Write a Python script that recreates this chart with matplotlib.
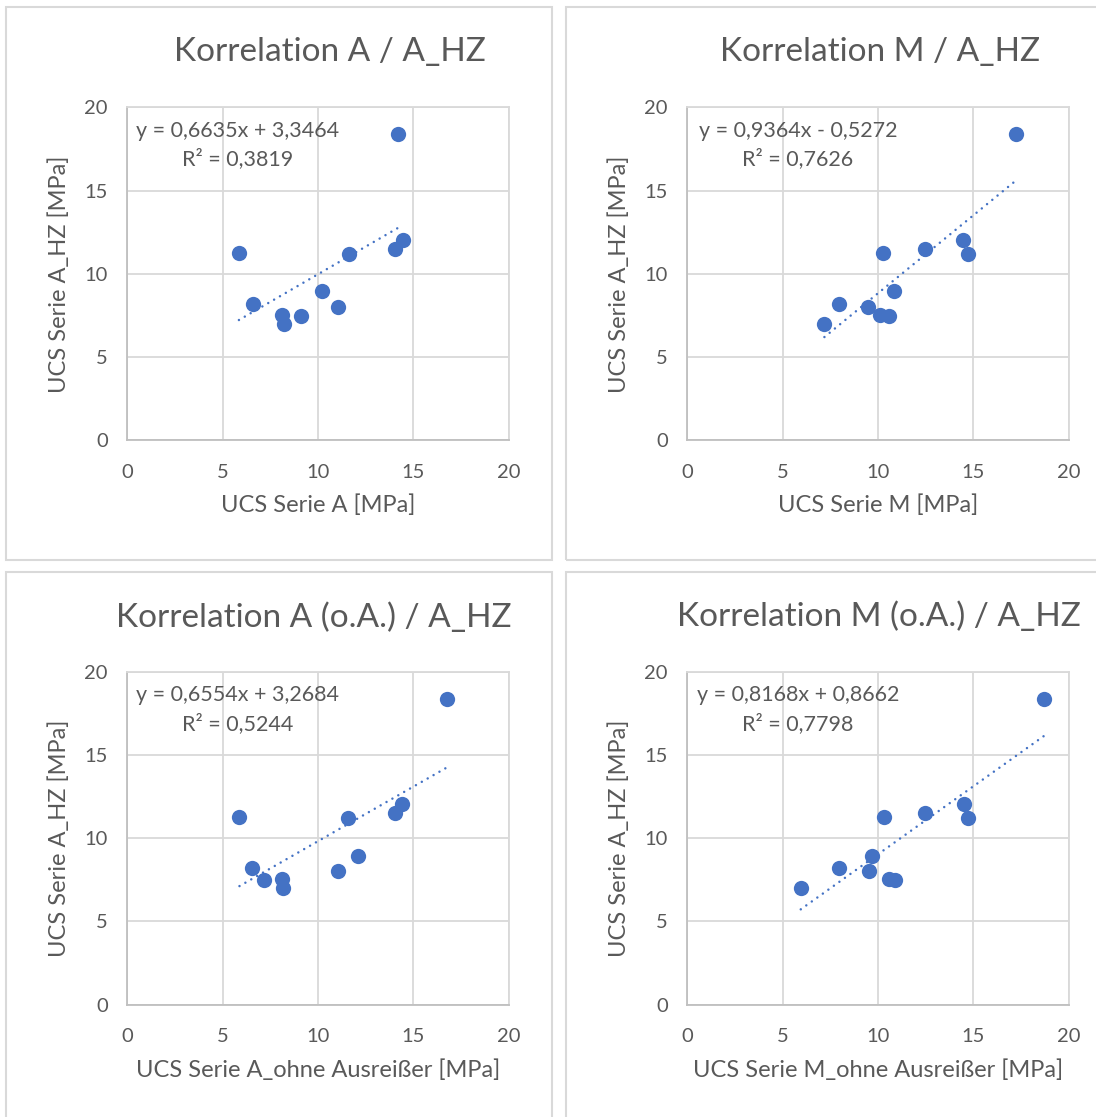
import numpy as np
import matplotlib
matplotlib.use("Agg")
import matplotlib.pyplot as plt
from matplotlib.patches import Rectangle

# UCS values (same 11 samples)
y_a_hz = [18.38, 11.26, 11.22, 12.06, 11.5, 8.96, 8.2, 8.02, 7.52, 7.01, 7.47]

x_serie_a = [14.18, 5.85, 11.6, 14.44, 14.02, 10.21, 6.59, 11.06, 8.12, 8.19, 9.08]
x_serie_m = [17.23, 10.27, 14.72, 14.48, 12.45, 10.83, 7.94, 9.48, 10.08, 7.19, 10.57]
x_serie_a_oa = [16.78, 5.88, 11.55, 14.42, 14.02, 12.07, 6.54, 11.06, 8.10, 8.17, 7.18]
x_serie_m_oa = [18.71, 10.34, 14.72, 14.51, 12.48, 9.71, 7.98, 9.52, 10.59, 5.95, 10.87]

titles = ["Korrelation A / A_HZ", "Korrelation M / A_HZ",
          "Korrelation A (o.A.) / A_HZ", "Korrelation M (o.A.) / A_HZ"]
xlabels = ["UCS Serie A [MPa]", "UCS Serie M [MPa]",
           "UCS Serie A_ohne Ausreißer [MPa]", "UCS Serie M_ohne Ausreißer [MPa]"]
ylabel = "UCS Serie A_HZ [MPa]"

# Excel trendline coefficients and labels
slopes = [0.6635, 0.9364, 0.6554, 0.8168]
intercepts = [3.3464, -0.5272, 3.2684, 0.8662]
eq_texts = ["y = 0,6635x + 3,3464", "y = 0,9364x - 0,5272",
            "y = 0,6554x + 3,2684", "y = 0,8168x + 0,8662"]
r2_texts = ["R² = 0,3819", "R² = 0,7626", "R² = 0,5244", "R² = 0,7798"]

ticks = [0, 5, 10, 15, 20]

blue = "#4472C4"
grey_text = "#595959"
grid_col = "#d9d9d9"

plt.rcParams["font.family"] = ["Lato", "DejaVu Sans"]

W, H = 1096, 1117
fig = plt.figure(figsize=(W / 100, H / 100), dpi=100)

# chart frames (pixels: left, top, width, height)
frames = [(6, 7, 546, 553), (566, 7, 546, 553), (6, 572, 546, 553), (566, 572, 546, 553)]
for (fx, fy, fw, fh) in frames:
    fig.patches.append(Rectangle((fx / W, 1 - (fy + fh) / H), fw / W, fh / H,
                                 transform=fig.transFigure, fill=False,
                                 edgecolor=grid_col, linewidth=1.5))

axes_pos = [(0.1162, 0.6058), (0.6271, 0.6058), (0.1162, 0.1006), (0.6271, 0.1006)]
title_px = [(330, 52), (880, 52), (314, 618), (879, 617)]
xs_all = [x_serie_a, x_serie_m, x_serie_a_oa, x_serie_m_oa]

for i in range(4):
    ax = fig.add_axes([axes_pos[i][0], axes_pos[i][1], 0.348, 0.298])
    xs = np.array(xs_all[i])
    ys = np.array(y_a_hz)

    ax.set_xlim(0, 20)
    ax.set_ylim(0, 20)
    ax.set_xticks(ticks)
    ax.set_yticks(ticks)
    ax.grid(True, color=grid_col, linewidth=1.3)
    ax.set_axisbelow(True)
    for sp in ax.spines.values():
        sp.set_color(grid_col)
        sp.set_linewidth(1.3)
    ax.spines["left"].set_color("#bfbfbf")
    ax.spines["bottom"].set_color("#bfbfbf")
    ax.tick_params(length=0, labelsize=14.5, labelcolor=grey_text)
    ax.tick_params(axis="x", pad=17)
    ax.tick_params(axis="y", pad=14)

    # trendline across the data range
    xl = np.array([xs.min(), xs.max()])
    ax.plot(xl, slopes[i] * xl + intercepts[i], color=blue, linewidth=1.8,
            linestyle=(0, (0.01, 2.7)), dash_capstyle="round", zorder=2)
    ax.plot(xs, ys, "o", color=blue, markersize=11, markeredgewidth=0, zorder=3)

    ax.text(0.29, 0.93, eq_texts[i], transform=ax.transAxes, ha="center", va="center",
            fontsize=15.5, color=grey_text)
    ax.text(0.29, 0.845, r2_texts[i], transform=ax.transAxes, ha="center", va="center",
            fontsize=15.5, color=grey_text)

    ax.set_xlabel(xlabels[i], fontsize=17, color=grey_text, va="baseline")
    ax.xaxis.set_label_coords(0.5, -0.216)
    ax.set_ylabel(ylabel, fontsize=17, color=grey_text, va="center")
    ax.yaxis.set_label_coords(-0.178, 0.5)

    tx, ty = title_px[i]
    fig.text(tx / W, 1 - ty / H, titles[i], ha="center", va="center",
             fontsize=24, color=grey_text)

fig.savefig("out.png", dpi=100)
